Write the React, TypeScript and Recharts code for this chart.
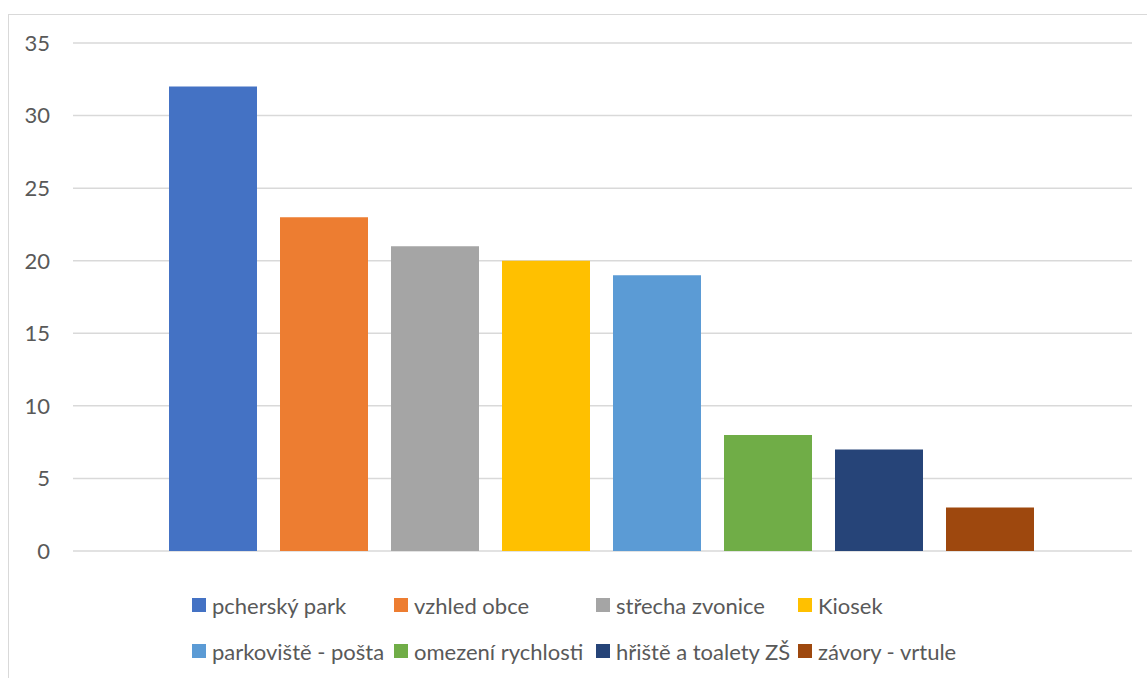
import { Bar, BarChart, CartesianGrid, Legend, XAxis, YAxis } from "recharts"

const seriesNames = [
  "pcherský park",
  "vzhled obce",
  "střecha zvonice",
  "Kiosek",
  "parkoviště - pošta",
  "omezení rychlosti",
  "hřiště a toalety ZŠ",
  "závory - vrtule",
]
const seriesValues = [32, 23, 21, 20, 19, 8, 7, 3]
const seriesColors = ["#4472C4", "#ED7D31", "#A5A5A5", "#FFC000", "#5B9BD5", "#70AD47", "#264478", "#9E480E"]
const yTicks = [0, 5, 10, 15, 20, 25, 30, 35]

const keys = seriesNames.map((_, i) => `s${i}`)
const data = [
  keys.reduce((row, k, i) => ({ ...row, [k]: seriesValues[i] }), { name: "" } as Record<string, string | number>),
]

const font = "Lato, 'Open Sans', sans-serif"

function ExcelLegend() {
  return (
    <div
      style={{
        display: "grid",
        gridTemplateColumns: "repeat(4, 202px)",
        fontFamily: font,
        fontSize: 22,
        color: "#595959",
      }}
    >
      {seriesNames.map((name, i) => (
        <div key={name} style={{ display: "flex", alignItems: "center", height: 46, whiteSpace: "nowrap" }}>
          <span style={{ width: 14, height: 14, background: seriesColors[i], marginRight: 6, flex: "none" }} />
          <span>{name}</span>
        </div>
      ))}
    </div>
  )
}

export default function App() {
  return (
    <div
      style={{
        position: "absolute",
        left: 8,
        top: 14,
        width: 1139,
        height: 664,
        borderLeft: "1px solid #d9d9d9",
        borderTop: "1px solid #d9d9d9",
        background: "#fff",
      }}
    >
      <BarChart
        width={1139}
        height={664}
        data={data}
        margin={{ top: 28, right: 16, left: 0, bottom: 36 }}
        barCategoryGap={96}
        barGap={23}
      >
        <CartesianGrid vertical={false} stroke="#d9d9d9" strokeWidth={1.5} />
        <XAxis dataKey="name" hide />
        <YAxis
          width={64}
          domain={[0, 35]}
          ticks={yTicks}
          axisLine={false}
          tickLine={false}
          tickMargin={17}
          tick={{ fill: "#595959", fontSize: 22, fontFamily: font }}
        />
        <Legend content={<ExcelLegend />} wrapperStyle={{ left: 183, top: 567, width: 820 }} />
        {keys.map((k, i) => (
          <Bar key={k} dataKey={k} name={seriesNames[i]} fill={seriesColors[i]} isAnimationActive={false} />
        ))}
      </BarChart>
    </div>
  )
}
